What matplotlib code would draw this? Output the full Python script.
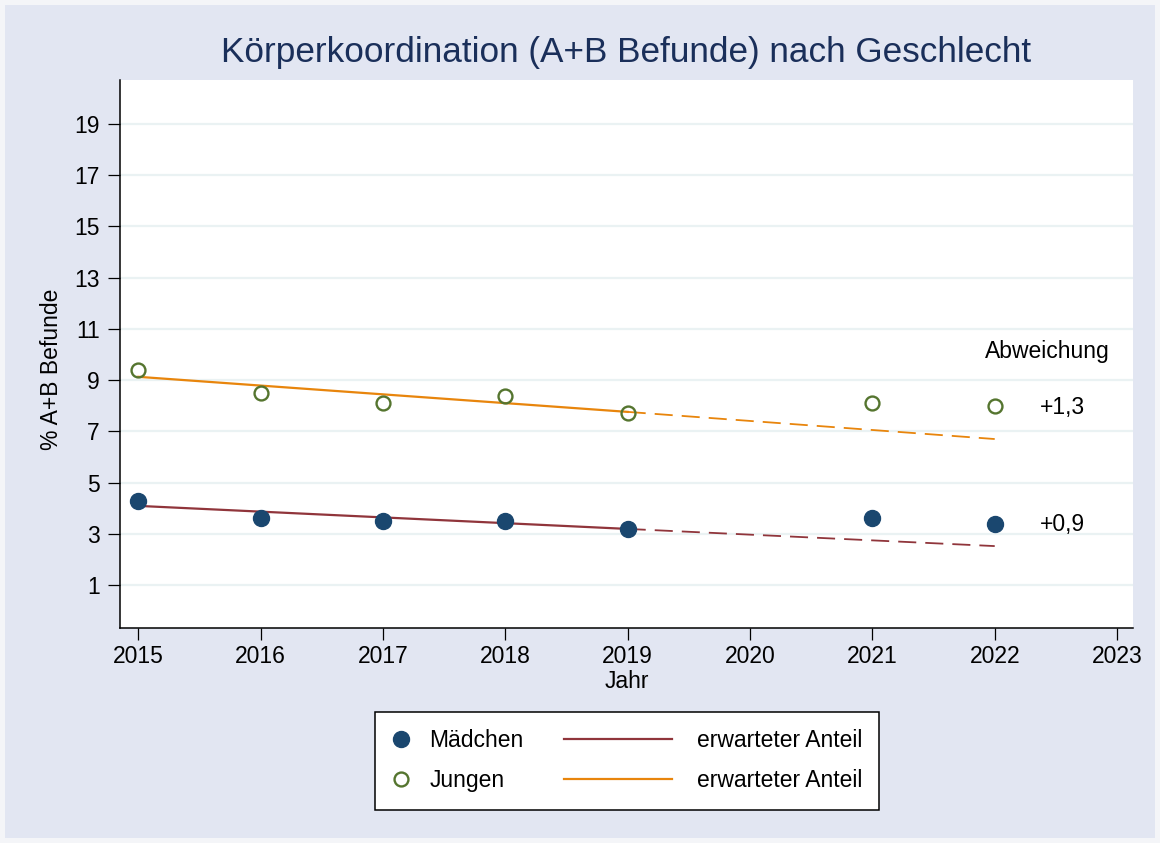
import matplotlib.pyplot as plt
from matplotlib.lines import Line2D
from matplotlib.legend_handler import HandlerBase

plt.rcParams['font.family'] = ['Liberation Sans', 'DejaVu Sans']

# Daten
jahre = [2015, 2016, 2017, 2018, 2019, 2021, 2022]
maedchen = [4.3, 3.6, 3.5, 3.5, 3.2, 3.6, 3.4]
jungen = [9.4, 8.5, 8.1, 8.4, 7.7, 8.1, 8.0]

trend_jahre = [2015, 2019]
prog_jahre = [2019, 2022]
trend_m = [4.09, 3.19]
prog_m = [3.19, 2.52]
trend_j = [9.13, 7.76]
prog_j = [7.76, 6.70]

abw_text = ['+1,3', '+0,9']
abw_y = [7.95, 3.35]

yticks = [1, 3, 5, 7, 9, 11, 13, 15, 17, 19]
xticks = [2015, 2016, 2017, 2018, 2019, 2020, 2021, 2022, 2023]

navy = '#1A476F'
maroon = '#90353B'
green = '#55752F'
orange = '#E8850C'
bg = '#E2E6F2'
fs = 16.5


class LongLine(HandlerBase):
    # Linie ragt links aus dem Handle-Kasten heraus (wie im Stata-Legendenlayout)
    def create_artists(self, legend, orig_handle, xdescent, ydescent,
                       width, height, fontsize, trans):
        y = height / 2 - ydescent
        x1 = width - 0.25 * fontsize - xdescent
        x0 = x1 - 4.7 * fontsize
        ln = Line2D([x0, x1], [y, y], color=orig_handle.get_color(),
                    lw=orig_handle.get_linewidth(), transform=trans)
        return [ln]


fig = plt.figure(figsize=(11.6, 8.43), dpi=100)
fig.patch.set_facecolor(bg)
fig.patch.set_edgecolor('#F4F5F8')
fig.patch.set_linewidth(6)

ax = fig.add_axes([0.1034, 0.2550, 0.8733, 0.6501])
ax.set_facecolor('white')

ax.plot(trend_jahre, trend_j, color=orange, lw=1.6)
ax.plot(prog_jahre, prog_j, color=orange, lw=1.3, dashes=(10, 5))
ax.plot(trend_jahre, trend_m, color=maroon, lw=1.6)
ax.plot(prog_jahre, prog_m, color=maroon, lw=1.3, dashes=(10, 5))

ax.plot(jahre, maedchen, 'o', color=navy, ms=11.5, mec=navy, zorder=5)
ax.plot(jahre, jungen, 'o', mfc='none', mec=green, ms=10, mew=1.7, zorder=5)

ax.text(2022.43, 10.1, 'Abweichung', fontsize=fs, ha='center', va='center')
for t, y in zip(abw_text, abw_y):
    ax.text(2022.55, y, t, fontsize=fs, ha='center', va='center')

ax.set_xlim(2014.85, 2023.13)
ax.set_ylim(-0.68, 20.72)
ax.set_xticks(xticks)
ax.set_yticks(yticks)
ax.grid(axis='y', color='#EAF2F3', lw=1.6)
ax.set_axisbelow(True)
for s in ['top', 'right']:
    ax.spines[s].set_visible(False)
for s in ['left', 'bottom']:
    ax.spines[s].set_linewidth(1.1)
ax.tick_params(axis='both', labelsize=fs, length=8.5, width=0.9, direction='out')
ax.tick_params(axis='y', pad=6)
ax.tick_params(axis='x', pad=4)

ax.set_xlabel('Jahr', fontsize=fs)
ax.xaxis.set_label_coords(0.5, -0.077)
ax.set_ylabel('% A+B Befunde', fontsize=fs)
ax.yaxis.set_label_coords(-0.056, 0.473)

fig.text(0.54, 0.938, 'Körperkoordination (A+B Befunde) nach Geschlecht',
         fontsize=25.3, color='#1A2F5A', ha='center', va='center')

h_m = Line2D([], [], ls='none', marker='o', color=navy, ms=11.5)
h_j = Line2D([], [], ls='none', marker='o', mfc='none', mec=green, ms=10, mew=1.7)
h_tm = Line2D([], [], color=maroon, lw=1.6)
h_tj = Line2D([], [], color=orange, lw=1.6)

leg = fig.legend([h_m, h_j, h_tm, h_tj],
                 ['Mädchen', 'Jungen', 'erwarteter Anteil', 'erwarteter Anteil'],
                 ncol=2, loc='upper center', bbox_to_anchor=(0.5405, 1 - 712 / 843),
                 borderaxespad=0,
                 fontsize=fs, handlelength=0.8, handletextpad=0.85,
                 columnspacing=5.9, labelspacing=0.75, borderpad=0.75,
                 fancybox=False, framealpha=1, edgecolor='black',
                 handler_map={h_tm: LongLine(), h_tj: LongLine()})
leg.get_frame().set_linewidth(1.1)

fig.savefig('out.png', dpi=100, facecolor=fig.get_facecolor(), edgecolor=fig.get_edgecolor())
